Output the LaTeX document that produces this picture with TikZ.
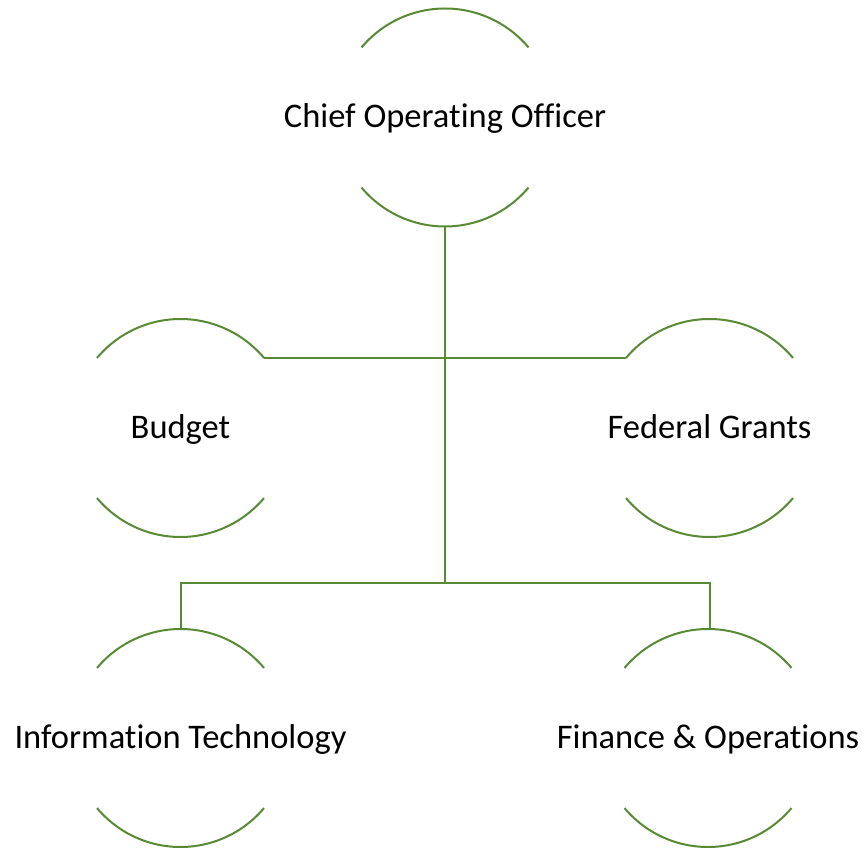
\documentclass[tikz,border=0pt]{standalone}
\usepackage{fontspec}
\setmainfont{Carlito}[Ligatures=NoCommon]
\definecolor{orggreen}{RGB}{88,138,52}
\newcommand\arcsof[1]{%
  \draw[arcline] ([shift={(40:109pt)}]#1.center) arc[start angle=40,end angle=140,radius=109pt];
  \draw[arcline] ([shift={(220:109pt)}]#1.center) arc[start angle=220,end angle=320,radius=109pt];
  \coordinate (#1-top) at ([yshift=109pt]#1.center);
  \coordinate (#1-bot) at ([yshift=-109pt]#1.center);
  \coordinate (#1-ne) at ([shift={(40:109pt)}]#1.center);
  \coordinate (#1-nw) at ([shift={(140:109pt)}]#1.center);
}
\begin{document}
\begin{tikzpicture}[x=1pt,y=1pt,
  arcline/.style={draw=orggreen,line width=2pt},
  link/.style={draw=orggreen,line width=2pt},
  orgnode/.style={font=\fontsize{34.5}{40}\selectfont,text height=21pt,text depth=0pt,inner sep=0pt,text=black}]
\useasboundingbox (0,0) rectangle (866,847);
\node[orgnode] (coo) at (445,729.5) {Chief Operating Officer};
\node[orgnode] (bud) at (180.5,419) {Budget};
\node[orgnode] (fg)  at (709.5,419) {Federal Grants};
\node[orgnode] (it)  at (180.5,109) {Information Technology};
\node[orgnode] (fo)  at (708,109) {Finance \& Operations};
\arcsof{coo}\arcsof{bud}\arcsof{fg}\arcsof{it}
\arcsof{fo}
\coordinate (j) at (445,264);
\draw[link] (coo-bot) -- (j);
\draw[link] (bud-ne) -- (fg-nw);
\draw[link] (j) -| (it-top);
\draw[link] (j) -| ([xshift=1.5pt]fo-top);
\end{tikzpicture}
\end{document}
